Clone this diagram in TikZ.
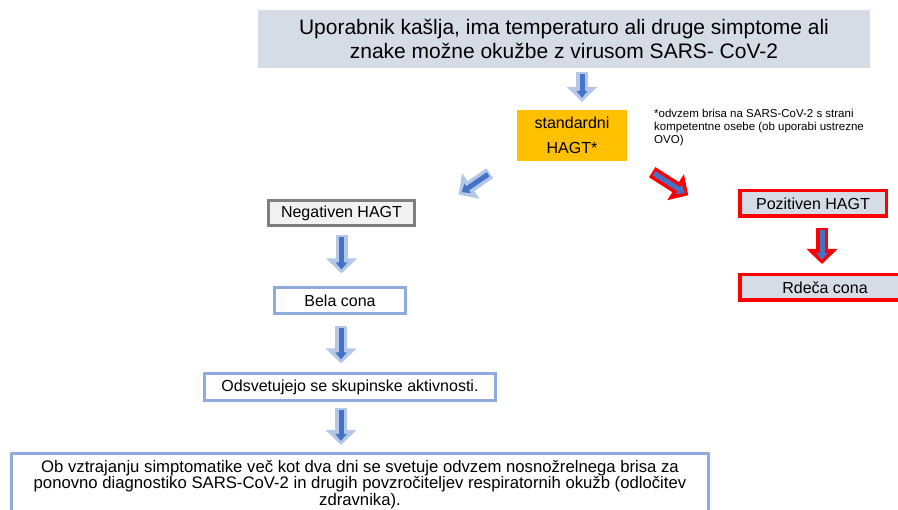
\documentclass[tikz,border=0pt]{standalone}
\usepackage{fontspec}
\setmainfont{Liberation Sans}
\usetikzlibrary{positioning,arrows.meta}
\definecolor{BoxGrey}{HTML}{D6DCE5}
\definecolor{NegFill}{HTML}{F2F2F2}
\definecolor{NegEdge}{HTML}{7F7F7F}
\definecolor{ZoneBlue}{HTML}{8FAADC}
\definecolor{ArrowBlue}{HTML}{4472C4}
\definecolor{ArrowEdge}{HTML}{B4C7E7}
\definecolor{TestOrange}{HTML}{FFC000}
\definecolor{AlertRed}{HTML}{FF0000}

\begin{document}
\begin{tikzpicture}[x=1pt, y=-1pt,
      every node/.style={align=center, inner sep=0pt},
      header/.style={fill=BoxGrey, minimum width=612pt, minimum height=58pt, font=\fontsize{21}{24}\selectfont},
      test/.style={fill=TestOrange, minimum width=110pt, minimum height=51pt, font=\fontsize{16}{25}\selectfont},
      negative/.style={draw=NegEdge, fill=NegFill, line width=3pt, minimum width=146pt, minimum height=25pt, font=\fontsize{16}{19}\selectfont},
      zone/.style={draw=ZoneBlue, fill=white, line width=3pt, minimum height=26pt, font=\fontsize{16}{19}\selectfont},
      positive/.style={draw=AlertRed, fill=BoxGrey, line width=3.5pt, minimum height=25.5pt, font=\fontsize{16}{19}\selectfont},
      note/.style={align=left, font=\fontsize{11.5}{13}\selectfont},
      blockarrow/.style={draw=ArrowBlue, line width=5pt, -{Triangle[length=7pt,width=11pt]}, shorten >=4pt, shorten <=2pt,
        preaction={draw=#1, line width=12pt, -{Triangle[length=15pt,width=30pt]}, shorten >=0pt, shorten <=0pt}},
      barrow/.style={blockarrow=ArrowEdge},
      rarrow/.style={blockarrow=AlertRed}
    ]
      \useasboundingbox (0,0) rectangle (898,510);

      \node[header] (top) at (564,39) {Uporabnik kašlja, ima temperaturo ali druge simptome ali\\ znake možne okužbe z virusom SARS- CoV-2};
      \node[test] (std) at (572,135.5) {standardni\\HAGT*};
      \node[note, anchor=north west] (note) at (654,109) {*odvzem brisa na SARS-CoV-2 s strani\\kompetentne osebe (ob uporabi ustrezne\\OVO)};

      % negative branch
      \node[negative] (neg) at (341.5,213) {Negativen HAGT};
      \node[zone, minimum width=131pt] (white) at (340,300.5) {Bela cona};
      \node[zone, minimum width=291pt, minimum height=27pt] (group) at (350,387) {Odsvetujejo se skupinske aktivnosti.};
      \node[zone, minimum width=697pt, anchor=north, inner ysep=6pt, font=\fontsize{16.7}{16.5}\selectfont] (swab) at (360,452.5)
        {Ob vztrajanju simptomatike več kot dva dni se svetuje odvzem nosnožrelnega brisa za\\
         ponovno diagnostiko SARS-CoV-2 in drugih povzročiteljev respiratornih okužb (odločitev\\
         zdravnika).\rule[-40pt]{0pt}{40pt}};

      % positive branch
      \node[positive, minimum width=146.5pt] (pos) at (813,203.5) {Pozitiven HAGT};
      \node[positive, minimum width=170.5pt] (red) at (825,287.5) {Rdeča cona};

      \draw[barrow] ([shift={(18pt,-4pt)}]top.south) -- ([shift={(10pt,8pt)}]std.north);
      \draw[barrow] ([shift={(-27pt,-12pt)}]std.south west) -- ([shift={(42.5pt,4.5pt)}]neg.north east);
      \draw[rarrow] ([shift={(25pt,-11pt)}]std.south east) -- ([shift={(-49.75pt,-6.25pt)}]pos.north west);
      \draw[barrow] ([yshift=-8.5pt]neg.south) -- ([shift={(1.5pt,12.5pt)}]white.north);
      \draw[barrow] ([shift={(1pt,-11.5pt)}]white.south) -- ([shift={(-9pt,8.5pt)}]group.north);
      \draw[barrow] ([shift={(-9pt,-6.5pt)}]group.south) -- ([shift={(-19pt,7.5pt)}]swab.north);
      \draw[rarrow] ([shift={(9pt,-10pt)}]pos.south) -- ([shift={(-3pt,9pt)}]red.north);

    \end{tikzpicture}
\end{document}
